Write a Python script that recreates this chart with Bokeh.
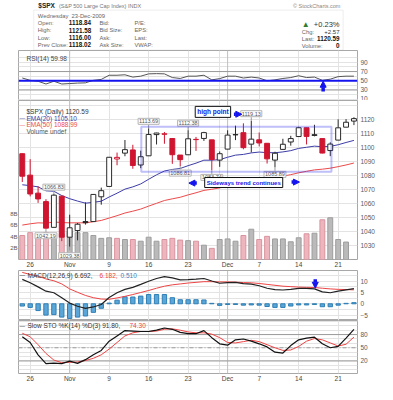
import datetime
from bokeh.plotting import figure
from bokeh.layouts import column
from bokeh.models import (ColumnDataSource, Range1d, LinearAxis, FixedTicker, Span,
                          BoxAnnotation, Label, Arrow, NormalHead)
from bokeh.embed import file_html
from bokeh.resources import INLINE

# ---------------- data ----------------
dates = ["2009-10-23", "2009-10-26", "2009-10-27", "2009-10-28", "2009-10-29", "2009-10-30",
         "2009-11-02", "2009-11-03", "2009-11-04", "2009-11-05", "2009-11-06",
         "2009-11-09", "2009-11-10", "2009-11-11", "2009-11-12", "2009-11-13",
         "2009-11-16", "2009-11-17", "2009-11-18", "2009-11-19", "2009-11-20",
         "2009-11-23", "2009-11-24", "2009-11-25", "2009-11-27",
         "2009-11-30", "2009-12-01", "2009-12-02", "2009-12-03", "2009-12-04",
         "2009-12-07", "2009-12-08", "2009-12-09", "2009-12-10", "2009-12-11",
         "2009-12-14", "2009-12-15", "2009-12-16", "2009-12-17", "2009-12-18",
         "2009-12-21", "2009-12-22", "2009-12-23"]
opens = [1095.62, 1080.36, 1067.54, 1061.51, 1043.19, 1065.41, 1036.18, 1040.92, 1047.30, 1047.30,
         1064.95, 1072.31, 1091.86, 1096.04, 1098.31, 1087.59, 1094.13, 1109.22, 1109.44, 1106.44,
         1094.66, 1094.86, 1105.83, 1106.49, 1105.47, 1091.07, 1098.89, 1109.03, 1110.59, 1102.43,
         1105.52, 1103.04, 1091.07, 1098.69, 1103.96, 1107.84, 1114.11, 1108.61, 1106.36, 1097.86,
         1105.31, 1114.51, 1118.84]
highs = [1095.83, 1091.75, 1072.48, 1063.26, 1066.83, 1065.41, 1052.18, 1046.36, 1061.00, 1066.65,
         1071.48, 1093.19, 1096.42, 1105.37, 1101.97, 1097.79, 1113.69, 1110.52, 1111.10, 1106.44,
         1094.66, 1112.38, 1107.56, 1111.18, 1105.47, 1097.24, 1112.28, 1115.58, 1117.28, 1119.13,
         1110.72, 1103.04, 1097.04, 1106.25, 1108.35, 1114.76, 1114.11, 1116.21, 1106.36, 1103.74,
         1120.10, 1120.27, 1121.58]
lows = [1075.49, 1065.23, 1060.62, 1042.19, 1043.19, 1033.38, 1029.38, 1033.94, 1045.15, 1047.30,
        1059.32, 1072.31, 1087.40, 1093.81, 1084.90, 1085.33, 1094.13, 1102.19, 1102.70, 1088.40,
        1086.81, 1094.86, 1097.63, 1104.75, 1083.74, 1086.25, 1098.89, 1105.29, 1098.74, 1096.52,
        1100.83, 1088.61, 1085.89, 1098.69, 1101.34, 1107.84, 1102.19, 1107.96, 1095.88, 1093.88,
        1105.31, 1114.51, 1116.00]
closes = [1079.60, 1066.95, 1063.41, 1042.63, 1066.11, 1036.19, 1042.88, 1045.41, 1046.50, 1066.63,
          1069.30, 1093.08, 1093.01, 1098.51, 1087.24, 1093.48, 1109.30, 1110.32, 1109.80, 1094.90,
          1091.38, 1106.24, 1105.65, 1110.63, 1091.49, 1095.63, 1108.86, 1109.24, 1099.92, 1105.98,
          1103.25, 1091.94, 1095.95, 1102.35, 1106.41, 1114.11, 1107.93, 1109.18, 1096.08, 1102.47,
          1114.05, 1118.02, 1120.59]
close_before_first = 1092.91
volume_b = [4.2, 4.7, 4.0, 4.7, 4.3, 4.5, 4.9, 4.7, 4.7, 4.2, 3.7, 3.8, 3.7, 3.5, 3.5, 3.2, 3.9, 3.2,
            3.5, 3.7, 3.4, 3.3, 3.2, 2.5, 1.95, 3.5, 3.6, 3.2, 4.2, 5.3, 3.5, 4.05, 3.6, 3.6, 3.1,
            3.8, 4.5, 4.6, 6.95, 7.3, 3.5, 3.05, 0]
ema20 = [1073.5, 1072.9, 1072.0, 1069.2, 1068.9, 1065.8, 1063.6, 1061.9, 1060.4, 1061.0, 1061.8,
         1064.8, 1067.5, 1070.4, 1072.0, 1074.1, 1077.4, 1080.6, 1083.3, 1084.4, 1085.1, 1087.1,
         1088.9, 1091.0, 1091.0, 1091.4, 1093.1, 1094.6, 1095.1, 1096.2, 1096.8, 1096.4, 1096.3,
         1096.9, 1097.8, 1099.4, 1100.2, 1101.0, 1100.6, 1100.8, 1102.0, 1103.6, 1105.10]
ema50 = [1044.8, 1045.7, 1046.4, 1046.2, 1047.0, 1046.6, 1046.4, 1046.4, 1046.4, 1047.2, 1048.1,
         1049.8, 1051.5, 1053.4, 1054.7, 1056.2, 1058.3, 1060.3, 1062.3, 1063.5, 1064.6, 1066.3,
         1067.8, 1069.5, 1070.3, 1071.3, 1072.8, 1074.2, 1075.2, 1076.4, 1077.5, 1078.0, 1078.7,
         1079.7, 1080.7, 1082.0, 1083.1, 1084.1, 1084.6, 1085.3, 1086.4, 1087.6, 1088.99]
rsi14 = [56, 51, 49, 43, 49, 43, 44, 45, 45.5, 51, 53, 62, 62, 63, 58, 60, 65, 65.5, 65, 57, 55,
         60, 60, 62, 52, 54.7, 60, 60, 56, 58, 56, 50, 52, 55, 57, 61, 57, 58, 51, 53.5, 59, 60, 59.98]
macd_line = [10.8, 9.3, 7.5, 5.6, 4.9, 2.7, 0.3, -1.1, -2.0, -1.4, -0.3, 2.8, 4.9, 6.4, 7.3, 8.6,
             10.0, 11.2, 12.0, 11.5, 10.6, 10.7, 10.9, 11.2, 10.1, 9.1, 9.4, 9.5, 8.9, 8.7, 8.0,
             6.9, 6.3, 6.1, 6.4, 6.8, 6.8, 6.6, 5.3, 4.9, 5.6, 6.2, 6.692]
macd_signal = [13.9, 13.0, 12.3, 11.0, 10.2, 8.8, 6.6, 5.1, 3.7, 2.7, 2.1, 2.0, 2.6, 3.3, 4.1, 5.0,
               5.9, 6.9, 7.8, 8.4, 8.8, 9.2, 9.5, 9.8, 9.8, 9.7, 9.7, 9.6, 9.4, 9.3, 9.0, 8.6,
               8.2, 7.8, 7.6, 7.4, 7.3, 7.2, 6.9, 6.6, 6.4, 6.3, 6.182]
macd_hist = [-1.0, -1.6, -3.0, -5.0, -4.8, -5.9, -6.5, -5.9, -5.4, -3.8, -2.0, 0.3, 1.6, 3.1, 3.0,
             3.4, 4.1, 4.1, 4.1, 2.7, 1.8, 1.8, 1.8, 1.7, 0.2, -0.7, -0.3, -0.3, -0.6, -0.5, -0.6,
             -1.2, -1.6, -1.6, -1.0, -0.5, -0.5, -0.3, -1.3, -1.3, -0.6, 0.2, 0.510]
sto_k = [75, 62, 34, 14, 15, 14, 19.5, 14.5, 23, 34, 44, 65, 77, 89, 88, 87, 87, 90, 95, 92, 85,
         82, 82, 89, 73, 59, 56, 68, 70, 65, 59, 52, 40, 38, 55, 68, 72, 74, 59, 50, 53, 72, 91.80]
sto_d = [83, 75, 57, 37, 22, 16, 17, 17.5, 21, 26, 34, 47, 62, 77, 84, 87, 87, 88, 92, 93, 90, 86,
         84, 84, 81, 73, 62, 61, 64, 67, 64, 57, 50, 44, 45, 53, 65, 71, 68, 61, 54, 58, 74.30]

tick_dates = ["2009-10-26", "2009-11-02", "2009-11-09", "2009-11-16", "2009-11-23",
              "2009-12-01", "2009-12-07", "2009-12-14", "2009-12-21"]
tick_labels = ["26", "Nov", "9", "16", "23", "Dec", "7", "14", "21"]
grid_dates = ["2009-10-26", "2009-11-02", "2009-11-09", "2009-11-16", "2009-11-23",
              "2009-11-30", "2009-12-07", "2009-12-14", "2009-12-21"]
month_dates = ["2009-11-02", "2009-12-01"]
price_ticks = [1030, 1040, 1050, 1060, 1070, 1080, 1090, 1100, 1110, 1120]
vol_ticks = [2, 4, 6, 8]
vol_tick_labels = ["2B", "4B", "6B", "8B"]
rsi_ticks = [10, 30, 50, 70, 90]
macd_ticks = [-5, 0, 5, 10]
sto_ticks = [20, 50, 80]

ann_dates = ["2009-10-29", "2009-10-28", "2009-11-02", "2009-11-16", "2009-11-20",
             "2009-11-23", "2009-11-27", "2009-12-04", "2009-12-09"]
ann_values = [1066.83, 1042.19, 1029.38, 1113.69, 1086.81, 1112.38, 1083.74, 1119.13, 1085.89]
ann_side = ["high", "low", "low", "high", "low", "high", "low", "high", "low"]

# ---------------- styling ----------------
FONT = "Liberation Sans"
W = 377
ML, MR = 18, 19
BLUE = "#1414ee"
RED = "#cf1530"
BLACK = "#2a2a2a"
GRID = "#e3e3e3"
MONTH = "#c0c0c0"
FRAME = "#a8a8a8"
AXTXT = "#5a5a5a"
EMA20_C = "#3d3da8"
EMA50_C = "#ee4a4a"

n = len(dates)
xs = list(range(n))
pos = {d: i for i, d in enumerate(dates)}
prev = [close_before_first] + closes[:-1]
up = [c >= p for c, p in zip(closes, prev)]
col = [BLACK if u else RED for u in up]
fill = ["white" if c > o else cc for o, c, cc in zip(opens, closes, col)]
src = ColumnDataSource(dict(
    x=xs, h=highs, l=lows,
    top=[max(o, c) for o, c in zip(opens, closes)],
    bot=[min(o, c) for o, c in zip(opens, closes)],
    col=col, fill=fill, vol=volume_b,
    vfill=["#bababa" if u else "#edb6be" for u in up],
    vline=["#9d9d9d" if u else "#d9939e" for u in up],
    ema20=ema20, ema50=ema50, rsi=rsi14, macd=macd_line, sig=macd_signal,
    hist=macd_hist, k=sto_k, d=sto_d))

xr = Range1d(-0.48, n - 1 + 0.45)
label_ticks = [pos[d] for d in tick_dates]
grid_ticks = [pos[d] for d in grid_dates]
month_ticks = [pos[d] for d in month_dates]


def style_axis(ax, size="6.5px", standoff=3):
    ax.major_label_text_font = FONT
    ax.major_label_text_font_size = size
    ax.major_label_text_color = AXTXT
    ax.axis_line_color = None
    ax.major_tick_line_color = None
    ax.minor_tick_line_color = None
    ax.major_tick_out = 0
    ax.major_tick_in = 0
    ax.major_label_standoff = standoff


def panel(height, yr, yticks, ygrid, bottom_axis=False, bottom=0):
    p = figure(width=W, height=height, x_range=xr, y_range=yr, title=None,
               output_backend="svg", toolbar_location=None,
               x_axis_location="below" if bottom_axis else None,
               y_axis_location="right", min_border=0,
               min_border_left=ML, min_border_right=MR, min_border_top=0,
               min_border_bottom=bottom)
    p.outline_line_color = FRAME
    p.background_fill_color = "white"
    p.border_fill_color = "white"
    p.xgrid.ticker = FixedTicker(ticks=grid_ticks)
    p.xgrid.grid_line_color = GRID
    p.ygrid.ticker = FixedTicker(ticks=ygrid)
    p.ygrid.grid_line_color = GRID
    for t in month_ticks:
        p.add_layout(Span(location=t, dimension="height", line_color=MONTH,
                          line_width=1, level="underlay"))
    ya = p.yaxis[0]
    ya.ticker = FixedTicker(ticks=yticks)
    style_axis(ya)
    if bottom_axis:
        ax = p.xaxis[0]
        ax.ticker = FixedTicker(ticks=label_ticks)
        ax.major_label_overrides = {t: s for t, s in zip(label_ticks, tick_labels)}
        style_axis(ax, standoff=1)
        ax.major_label_text_color = "#444444"
    return p


def legend(p, dx, dy, text, color="#333333", size="6.5px", bold=False):
    p.add_layout(Label(x=xr.start, y=p.y_range.end, x_offset=dx, y_offset=-dy, text=text,
                       text_color=color, text_font=FONT, text_font_size=size,
                       text_font_style="bold" if bold else "normal",
                       text_baseline="middle", text_align="left"))


def block_arrow(p, x0, y0, x1, y1):
    p.add_layout(Arrow(end=NormalHead(size=6, fill_color=BLUE, line_color=BLUE, line_width=1),
                       x_start=x0, y_start=y0, x_end=x1, y_end=y1,
                       line_color=BLUE, line_width=3.5))


# ---------------- header ----------------
HH = 50
ph = figure(width=W, height=HH, x_range=Range1d(0, W), y_range=Range1d(HH, 0), title=None,
            output_backend="svg", toolbar_location=None, x_axis_location=None,
            y_axis_location=None, min_border=0)
ph.xgrid.visible = False
ph.ygrid.visible = False
ph.outline_line_color = None
ph.add_layout(BoxAnnotation(left=17, right=361, top=9.6, bottom=49.5, fill_color="white",
                            fill_alpha=1, line_color="#c6c6c6", line_width=1))


def htext(x, y, text, size="5.8px", color="#666666", bold=False, align="left"):
    ph.add_layout(Label(x=x, y=y, text=text, text_font=FONT, text_font_size=size,
                        text_color=color, text_font_style="bold" if bold else "normal",
                        text_align=align, text_baseline="middle"))


last_day = datetime.date.fromisoformat(dates[-1])
chg = closes[-1] - closes[-2]
htext(22, 5.2, "$SPX", "6.5px", "#222222", bold=True)
htext(45, 5.4, "(S&P 500 Large Cap Index) INDX", "5.5px", "#777777")
htext(358, 5.2, "© StockCharts.com", "5.5px", "#888888", align="right")
rows_y = [15.1, 22.4, 29.8, 37.2, 44.4]
htext(21.5, rows_y[0], last_day.strftime("%A"))
htext(59, rows_y[0], last_day.strftime("%d-%b-%Y"))
left_names = ["Open:", "High:", "Low:", "Prev Close:"]
left_vals = [opens[-1], highs[-1], lows[-1], closes[-2]]
mid_names = ["Bid:", "Bid Size:", "Ask:", "Ask Size:"]
right_names = ["P/E:", "EPS:", "Last:", "VWAP:"]
for k in range(4):
    y = rows_y[k + 1]
    htext(21.5, y, left_names[k])
    htext(56, y, f"{left_vals[k]:.2f}", "6.3px", "#111111", bold=True)
    htext(90, y, mid_names[k])
    htext(129, y, right_names[k])
ry = [24.0, 31.0, 38.2, 45.2]
htext(315, ry[0], "▲", "8px", "#2e7d32")
htext(357, ry[0], f"{chg / closes[-2] * 100:+.2f}%", "7.5px", "#333333", align="right")
htext(315, ry[1], "Chg:")
htext(357, ry[1], f"{chg:+.2f}", "6px", "#333333", align="right")
htext(315, ry[2], "Last:")
htext(357, ry[2], f"{closes[-1]:.2f}", "6.3px", "#111111", bold=True, align="right")
htext(315, ry[3], "Volume:")
htext(357, ry[3], f"{volume_b[-1]:.0f}", "6.3px", "#111111", bold=True, align="right")

# ---------------- RSI ----------------
pr = panel(50, Range1d(7.2, 115.7), rsi_ticks, list(range(10, 101, 10)))
for lv in (70, 30):
    pr.add_layout(Span(location=lv, dimension="width", line_color="#9a9a9a", line_width=1,
                       level="underlay"))
pr.line("x", "rsi", source=src, line_color="#555555", line_width=1)
pr.add_layout(Span(location=50, dimension="width", line_color=BLUE, line_width=2))
block_arrow(pr, 38.1, 27, 38.1, 49)
legend(pr, 8, 8, f"RSI(14) {rsi14[-1]:.2f}", "#444444")

# ---------------- price + volume ----------------
MAIN_FRAME = 161
pm = panel(MAIN_FRAME + 9, Range1d(1020.3, 1133.5), price_ticks, price_ticks + [1130],
           bottom_axis=True, bottom=9)
pm.extra_y_ranges = {"vol": Range1d(0, 27.83)}
vax = LinearAxis(y_range_name="vol", ticker=FixedTicker(ticks=vol_ticks),
                 major_label_overrides={t: s for t, s in zip(vol_ticks, vol_tick_labels)})
style_axis(vax, size="6px", standoff=1)
pm.add_layout(vax, "left")
pm.vbar(x="x", width=0.62, top="vol", bottom=0, y_range_name="vol", source=src,
        fill_color="vfill", line_color="vline", line_width=1)
pm.line("x", "ema50", source=src, line_color=EMA50_C, line_width=1)
pm.line("x", "ema20", source=src, line_color=EMA20_C, line_width=1)
pm.segment(x0="x", y0="l", x1="x", y1="h", source=src, line_color="col", line_width=1)
pm.vbar(x="x", width=0.62, top="top", bottom="bot", source=src, fill_color="fill",
        line_color="col", line_width=1)

ppx = (1133.5 - 1020.3) / MAIN_FRAME
ann_x = [pos[d] for d in ann_dates]
ann_sign = [1 if s == "high" else -1 for s in ann_side]
pm.segment(x0=ann_x, y0=ann_values, x1=ann_x,
           y1=[v + sg * 3.5 * ppx for v, sg in zip(ann_values, ann_sign)],
           line_color="#9a9a9a", line_width=1)
for x, v, sg, d in zip(ann_x, ann_values, ann_sign, ann_dates):
    off = 7 if sg > 0 else (-9 if d == "2009-11-02" else -7)
    pm.add_layout(Label(x=x, y=v, y_offset=off, text=f"{v:.2f}", text_align="center",
                        text_baseline="middle", text_font=FONT, text_font_size="5.5px",
                        text_color="#555555", border_line_color="#b4b4b4",
                        background_fill_color="white", padding=1))

pm.add_layout(BoxAnnotation(left=15.07, right=39.15, top=1114.8, bottom=1082.8,
                            fill_alpha=0, line_color="#2a2af0", line_width=2))
pm.add_layout(Label(x=21.9, y=1125.4, text="high point", text_font=FONT,
                    text_font_size="6.5px", text_font_style="bold", text_color=BLUE,
                    text_baseline="middle", border_line_color="#111111",
                    background_fill_color="white", padding=2))
pm.add_layout(Label(x=23.1, y=1075.1, text="Sideways trend continues", text_font=FONT,
                    text_font_size="6px", text_font_style="bold", text_color=BLUE,
                    text_baseline="middle", border_line_color="#111111",
                    background_fill_color="white", padding=2))
block_arrow(pm, 26.8, 1123.7, 27.8, 1123.7)
block_arrow(pm, 22.1, 1074.7, 21.1, 1074.7)
block_arrow(pm, 34.1, 1075.4, 35.1, 1075.4)

legend(pm, 8, 11, f"$SPX (Daily) {closes[-1]:.2f}", "#333333")
legend(pm, 1, 17.7, "—", EMA20_C, size="5.5px")
legend(pm, 8, 17.7, f"EMA(20) {ema20[-1]:.2f}", EMA20_C)
legend(pm, 1, 24.3, "—", EMA50_C, size="5.5px")
legend(pm, 8, 24.3, f"EMA(50) {ema50[-1]:.2f}", EMA50_C)
legend(pm, 8, 30.5, "Volume undef", "#555555")

# ---------------- MACD ----------------
pc = panel(50, Range1d(-7.4, 14.75), macd_ticks, [-5, -2.5, 0, 2.5, 5, 7.5, 10, 12.5])
pc.vbar(x="x", width=0.55, top="hist", bottom=0, source=src, fill_color="#5ba6d8",
        line_color="#2e7fb5", line_width=1)
pc.line("x", "sig", source=src, line_color="#ee4444", line_width=1)
pc.line("x", "macd", source=src, line_color="#222222", line_width=1.2)
block_arrow(pc, 37.1, 10.9, 37.1, 6.9)
legend(pc, 1, 4.5, "—", "#222222", size="5.5px")
legend(pc, 9, 4.5, f"MACD(12,26,9) {macd_line[-1]:.3f}, ", "#333333")
legend(pc, 81, 4.5, f"{macd_signal[-1]:.3f}, ", "#ee4444")
legend(pc, 102, 4.5, f"{macd_hist[-1]:.3f}", "#3d7fc0")

# ---------------- Slow Stochastic ----------------
ps = panel(64, Range1d(-8.5, 112), sto_ticks, list(range(0, 111, 10)), bottom_axis=True,
           bottom=9)
for lv in (80, 20):
    ps.add_layout(Span(location=lv, dimension="width", line_color="#9a9a9a", line_width=1,
                       level="underlay"))
ps.add_layout(Span(location=50, dimension="width", line_color="#9a9a9a", line_width=1,
                   line_dash="4 2 1 2", level="underlay"))
ps.line("x", "d", source=src, line_color="#ee4444", line_width=1)
ps.line("x", "k", source=src, line_color="#111111", line_width=1.2)
legend(ps, 1, 5, "—", "#222222", size="5.5px")
legend(ps, 9, 5, f"Slow STO %K(14) %D(3) {sto_k[-1]:.2f}, ", "#333333")
legend(ps, 111, 5, f"{sto_d[-1]:.2f}", "#ee4444")

layout = column(ph, pr, pm, pc, ps, spacing=0)
open("out.html", "w").write(file_html(layout, INLINE))
